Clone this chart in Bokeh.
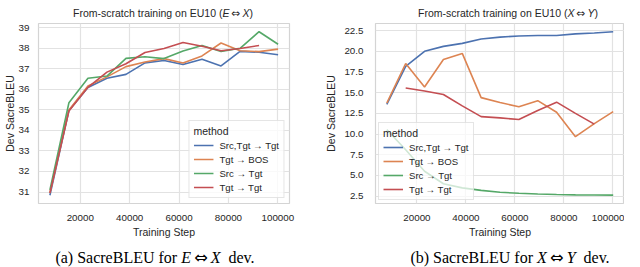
from bokeh.plotting import figure
from bokeh.models import (Div, Legend, LegendItem, FixedTicker, NumeralTickFormatter,
                          Range1d)
from bokeh.layouts import column, row
from bokeh.embed import file_html
from bokeh.resources import INLINE

# ---------------- data ----------------
steps = [7700, 15400, 23100, 30800, 38500, 46200, 53900, 61600, 69300, 77000, 84700, 92400, 100100]
methods = ["Src,Tgt \u2192 Tgt", "Tgt \u2192 BOS", "Src \u2192 Tgt", "Tgt \u2192 Tgt"]

# (a) E <-> X
ex_srctgt = [30.84, 34.97, 36.09, 36.54, 36.73, 37.29, 37.41, 37.21, 37.47, 37.14, 37.85, 37.81, 37.69]
ex_bos = [30.95, 35.0, 36.17, 36.61, 37.11, 37.33, 37.5, 37.29, 37.63, 38.26, 37.88, 37.84, 37.96]
ex_src = [31.1, 35.35, 36.54, 36.65, 37.51, 37.59, 37.5, 37.87, 38.14, 37.85, 38.0, 38.81, 38.2]
ex_tgt_steps = steps[:12]
ex_tgt = [30.95, 34.95, 36.1, 36.84, 37.25, 37.8, 37.99, 38.28, 38.1, 37.88, 37.99, 38.14]

# (b) X <-> Y
xy_srctgt = [13.58, 18.16, 19.99, 20.59, 20.95, 21.47, 21.7, 21.84, 21.9, 21.9, 22.1, 22.2, 22.36]
xy_bos = [13.74, 18.52, 15.68, 19.0, 19.74, 14.4, 13.8, 13.3, 14.03, 12.63, 9.68, 11.26, 12.7]
xy_src = [10.53, 8.1, 5.5, 4.0, 3.5, 3.2, 2.97, 2.84, 2.76, 2.7, 2.65, 2.64, 2.62]
xy_tgt_steps = steps[1:12]
xy_tgt = [15.55, 15.2, 14.77, 13.4, 12.1, 11.95, 11.75, 12.85, 13.85, 12.5, 11.2]

x_ticks = [20000, 40000, 60000, 80000, 100000]
y_ticks_ex = [31, 32, 33, 34, 35, 36, 37, 38, 39]
y_ticks_xy = [2.5, 5.0, 7.5, 10.0, 12.5, 15.0, 17.5, 20.0, 22.5]

colors = ["#4C72B0", "#DD8452", "#55A868", "#C44E52"]
SANS = "Liberation Sans"
DARK = "#262626"


def style(p, yticks, yfmt, lab_standoff, axlab_standoff):
    p.background_fill_color = "white"
    p.border_fill_color = "white"
    p.outline_line_color = "#d4d4d4"
    p.outline_line_width = 1.2
    p.xaxis.ticker = FixedTicker(ticks=x_ticks)
    p.xaxis.formatter = NumeralTickFormatter(format="0")
    p.yaxis.ticker = FixedTicker(ticks=yticks)
    p.yaxis.formatter = NumeralTickFormatter(format=yfmt)
    for ax in (p.xaxis, p.yaxis):
        ax.axis_line_color = None
        ax.major_tick_line_color = None
        ax.minor_tick_line_color = None
        ax.major_label_text_font = SANS
        ax.major_label_text_font_size = "9.8px"
        ax.major_label_text_color = DARK
        ax.axis_label_text_font = SANS
        ax.axis_label_text_font_size = "10.5px"
        ax.axis_label_text_font_style = "normal"
        ax.axis_label_text_color = DARK
    p.xaxis.axis_label = "Training Step"
    p.yaxis.axis_label = "Dev SacreBLEU"
    p.xaxis.major_label_standoff = 5
    p.xaxis.axis_label_standoff = 2
    p.yaxis.major_label_standoff = lab_standoff
    p.yaxis.axis_label_standoff = axlab_standoff
    p.grid.grid_line_color = "#e2e2e2"
    p.grid.grid_line_width = 1.2


def add_legend(p, renderers, location, margin, bg_alpha):
    items = [LegendItem(label=m, renderers=[r]) for m, r in zip(methods, renderers)]
    lg = Legend(items=items, location=location, title="method")
    lg.margin = margin
    lg.padding = 4
    lg.spacing = 2
    lg.label_height = 12
    lg.glyph_height = 12
    lg.glyph_width = 20
    lg.label_standoff = 6
    lg.title_standoff = 2
    lg.label_text_font = SANS
    lg.label_text_font_size = "9.6px"
    lg.label_text_color = DARK
    lg.title_text_font = SANS
    lg.title_text_font_size = "10.5px"
    lg.title_text_font_style = "normal"
    lg.title_text_color = DARK
    lg.border_line_color = "#cccccc"
    lg.border_line_width = 1
    lg.background_fill_alpha = bg_alpha
    p.add_layout(lg)


WA, WB, H = 322, 302, 219
LW = 1.6

# ---------------- panel (a) ----------------
pa = figure(width=WA, height=H, output_backend="svg", toolbar_location=None,
            x_range=Range1d(3080, 104720), y_range=Range1d(30.44, 39.21),
            min_border_left=23, min_border_right=33, min_border_top=2, min_border_bottom=0)
style(pa, y_ticks_ex, "0", 3, 0)
ra = [
    pa.line(steps, ex_srctgt, color=colors[0], line_width=LW),
    pa.line(steps, ex_bos, color=colors[1], line_width=LW),
    pa.line(steps, ex_src, color=colors[2], line_width=LW),
    pa.line(ex_tgt_steps, ex_tgt, color=colors[3], line_width=LW),
]
add_legend(pa, ra, "bottom_right", 5, 0.8)

# ---------------- panel (b) ----------------
pb = figure(width=WB, height=H, output_backend="svg", toolbar_location=None,
            x_range=Range1d(3080, 104720), y_range=Range1d(1.61, 23.35),
            min_border_left=40, min_border_right=0, min_border_top=2, min_border_bottom=0)
style(pb, y_ticks_xy, "0.0", 6, 4)
rb = [
    pb.line(steps, xy_srctgt, color=colors[0], line_width=LW),
    pb.line(steps, xy_bos, color=colors[1], line_width=LW),
    pb.line(steps, xy_src, color=colors[2], line_width=LW),
    pb.line(xy_tgt_steps, xy_tgt, color=colors[3], line_width=LW),
]
add_legend(pb, rb, "bottom_left", 3, 0.72)

# ---------------- titles and captions ----------------
ARROW = "<span style=\"font-family:'DejaVu Sans';font-style:normal\">\u21d4</span>"


def title_div(html, left, w):
    return Div(text=(f'<div style="margin-left:{left}px;width:262px;text-align:center;'
                     f'font-family:\'{SANS}\';font-size:10.5px;line-height:11px;color:{DARK};'
                     f'white-space:nowrap">{html}</div>'), width=w, height=11)


def caption_div(html, left, w):
    return Div(text=(f'<div style="margin-left:{left}px;width:250px;text-align:center;'
                     f'font-family:\'Liberation Serif\';font-size:16px;line-height:20px;'
                     f'padding-top:3px;color:#000;white-space:nowrap">{html}</div>'),
               width=w, height=27)


ta = title_div(f"From-scratch training on EU10 (<i>E</i>\u2009{ARROW}\u2009<i>X</i>)", 27, WA)
tb = title_div(f"From-scratch training on EU10 (<i>X</i>\u2009{ARROW}\u2009<i>Y</i>)", 40, WB)
ca = caption_div(f"(a) SacreBLEU for <i>E</i>\u2009{ARROW}\u2009<i>X</i>\u2002dev.", 25, WA)
cb = caption_div(f"(b) SacreBLEU for <i>X</i>\u2009{ARROW}\u2009<i>Y</i>\u2002dev.", 48, WB)

layout = column(row(ta, tb), row(pa, pb), row(ca, cb))

open("out.html", "w").write(file_html(layout, INLINE))
